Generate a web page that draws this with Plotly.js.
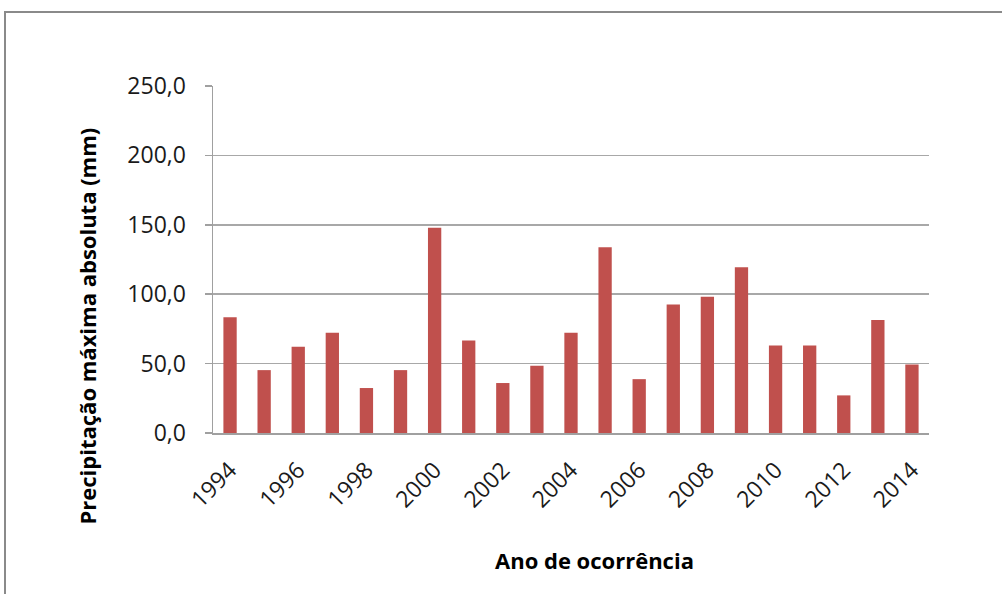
<!DOCTYPE html>
<html>
<head>
<meta charset="utf-8">
<script src="https://cdn.plot.ly/plotly-3.0.1.min.js"></script>
<style>
  html, body { margin: 0; padding: 0; width: 1002px; height: 594px; overflow: hidden; background: #fff; }
  #frame { position: absolute; left: 4px; top: 11px; width: 2000px; height: 2000px;
           border-top: 2px solid #8a8a8a; border-left: 2px solid #8a8a8a; pointer-events: none; z-index: 5; }
  #chart { position: absolute; left: 0; top: 0; width: 1002px; height: 594px; }
</style>
</head>
<body>
<div id="chart"></div>
<div id="frame"></div>
<script>
const years = ['1994','1995','1996','1997','1998','1999','2000','2001','2002','2003','2004',
               '2005','2006','2007','2008','2009','2010','2011','2012','2013','2014'];
const precipitation = [83.4, 45.3, 62.1, 72.2, 32.4, 45.3, 147.9, 66.6, 36.0, 48.4, 72.2,
                       133.8, 38.8, 92.5, 98.1, 119.4, 63.1, 63.1, 27.1, 81.5, 49.4];
const xTickLabels = ['1994','1996','1998','2000','2002','2004','2006','2008','2010','2012','2014'];
const yTickValues = [0, 50, 100, 150, 200, 250];
const xTitle = 'Ano de ocorrência';
const yTitle = 'Precipitação máxima absoluta (mm)';

const plotLeft = 213, plotRight = 929, plotTop = 86, plotBottom = 433;
const W = 1002, H = 594;
const pw = plotRight - plotLeft, ph = plotBottom - plotTop;
const px2x = px => (px - plotLeft) / pw;
const py2y = py => (plotBottom - py) / ph;

const trace = {
  type: 'bar',
  x: years,
  y: precipitation,
  marker: { color: '#C0504D', line: { width: 0 } },
  hoverinfo: 'x+y'
};

const tickFont = { family: 'Open Sans, sans-serif', size: 23, color: '#1a1a1a' };
const titleFont = { family: 'Open Sans, sans-serif', size: 22, color: '#000', weight: 'bold' };

const layout = {
  width: W, height: H,
  margin: { l: plotLeft, r: W - plotRight, t: plotTop, b: H - plotBottom, pad: 0 },
  paper_bgcolor: 'rgba(0,0,0,0)',
  plot_bgcolor: '#fff',
  showlegend: false,
  bargap: 0.61,
  separators: ',.',
  xaxis: {
    type: 'category',
    tickmode: 'array',
    tickvals: xTickLabels,
    ticktext: xTickLabels,
    tickangle: -45,
    tickfont: tickFont,
    ticks: '',
    ticklabelstandoff: 13,
    showgrid: false,
    showline: true,
    linecolor: '#a0a0a0',
    linewidth: 1.5,
    zeroline: false,
    range: [-0.5, 20.5]
  },
  yaxis: {
    range: [0, 250],
    tickmode: 'array',
    tickvals: yTickValues,
    tickformat: '.1f',
    tickfont: tickFont,
    ticks: 'outside',
    ticklen: 7,
    tickcolor: '#a0a0a0',
    tickwidth: 1.5,
    ticklabelstandoff: 14,
    showgrid: true,
    gridcolor: '#a8a8a8',
    gridwidth: 1.5,
    showline: true,
    linecolor: '#a0a0a0',
    linewidth: 1.5,
    zeroline: false
  },
  annotations: [
    { text: '<b>' + yTitle + '</b>', xref: 'paper', yref: 'paper',
      x: px2x(86), y: py2y(326.5), textangle: -90, showarrow: false,
      xanchor: 'center', yanchor: 'middle', font: titleFont },
    { text: '<b>' + xTitle + '</b>', xref: 'paper', yref: 'paper',
      x: px2x(594), y: py2y(560), showarrow: false,
      xanchor: 'center', yanchor: 'middle', font: titleFont }
  ]
};

Plotly.newPlot('chart', [trace], layout, { displayModeBar: false, staticPlot: true });
</script>
</body>
</html>
